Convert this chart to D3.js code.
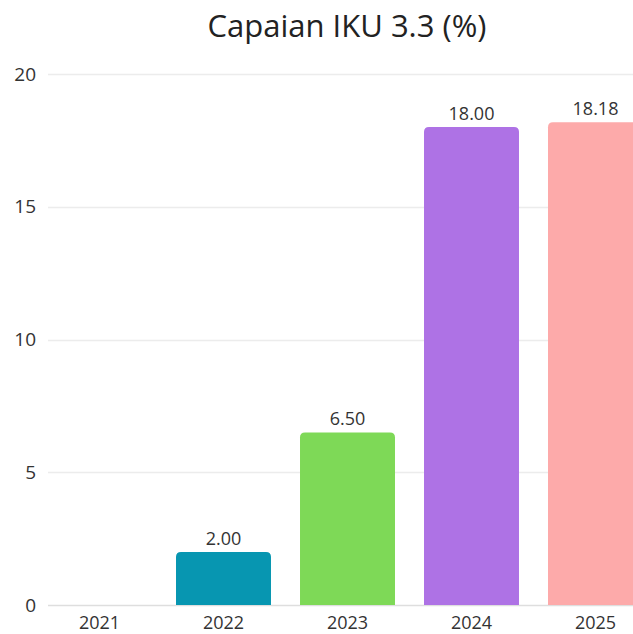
<!DOCTYPE html>
<html>
<head>
<meta charset="utf-8">
<script src="https://cdn.jsdelivr.net/npm/d3@7"></script>
<style>
  html, body { margin: 0; padding: 0; background: #fff; }
  svg { display: block; font-family: "Open Sans", "Noto Sans", sans-serif; }
</style>
</head>
<body>
<svg id="chart" width="633" height="634"></svg>
<script>
const title = "Capaian IKU 3.3 (%)";
const years = ["2021", "2022", "2023", "2024", "2025"];
const values = [0, 2.00, 6.50, 18.00, 18.18];
const colors = ["#0796b1", "#0796b1", "#7ed957", "#ae72e5", "#fdaaaa"];
const yTicks = [0, 5, 10, 15, 20];

const svg = d3.select("#chart");
const W = 633, H = 634;

const y = d3.scaleLinear().domain([0, 20]).range([605, 74]);
const x = d3.scaleBand().domain(years).range([37.5, 657.5]).paddingInner(0.234).paddingOuter(0.117);

// gridlines
svg.append("g").selectAll("line").data(yTicks).join("line")
  .attr("x1", 48).attr("x2", W)
  .attr("y1", d => Math.round(y(d)) + 0.5).attr("y2", d => Math.round(y(d)) + 0.5)
  .attr("stroke", d => d === 0 ? "#dedede" : "#ececec").attr("stroke-width", 1.5);

// y tick labels
svg.append("g").selectAll("text").data(yTicks).join("text")
  .attr("x", 36).attr("y", d => y(d)).attr("dy", "0.35em")
  .attr("text-anchor", "end").attr("font-size", 19).attr("fill", "#333")
  .text(d => d);

// bars with rounded top corners
const r = 5;
function barPath(d, i) {
  const x0 = x(years[i]), w = x.bandwidth();
  const y0 = y(0), y1 = y(d);
  if (d <= 0) return "";
  const rr = Math.min(r, (y0 - y1) / 2);
  return `M${x0},${y0} V${y1 + rr} Q${x0},${y1} ${x0 + rr},${y1} H${x0 + w - rr} Q${x0 + w},${y1} ${x0 + w},${y1 + rr} V${y0} Z`;
}
svg.append("g").selectAll("path").data(values).join("path")
  .attr("d", (d, i) => barPath(d, i))
  .attr("fill", (d, i) => colors[i]);

// value labels
const labelled = years.map((yr, i) => ({ yr, v: values[i] })).filter(d => d.v > 0);
svg.append("g").selectAll("text").data(labelled).join("text")
  .attr("x", d => x(d.yr) + x.bandwidth() / 2)
  .attr("y", d => y(d.v) - 7)
  .attr("text-anchor", "middle").attr("font-size", 18).attr("fill", "#333")
  .text(d => d.v.toFixed(2));

// x labels
svg.append("g").selectAll("text").data(years).join("text")
  .attr("x", d => x(d) + x.bandwidth() / 2)
  .attr("y", 629)
  .attr("text-anchor", "middle").attr("font-size", 18).attr("fill", "#333")
  .text(d => d);

// title
svg.append("text")
  .attr("x", 347).attr("y", 37)
  .attr("text-anchor", "middle").attr("font-size", 31).attr("fill", "#222")
  .text(title);
</script>
</body>
</html>
